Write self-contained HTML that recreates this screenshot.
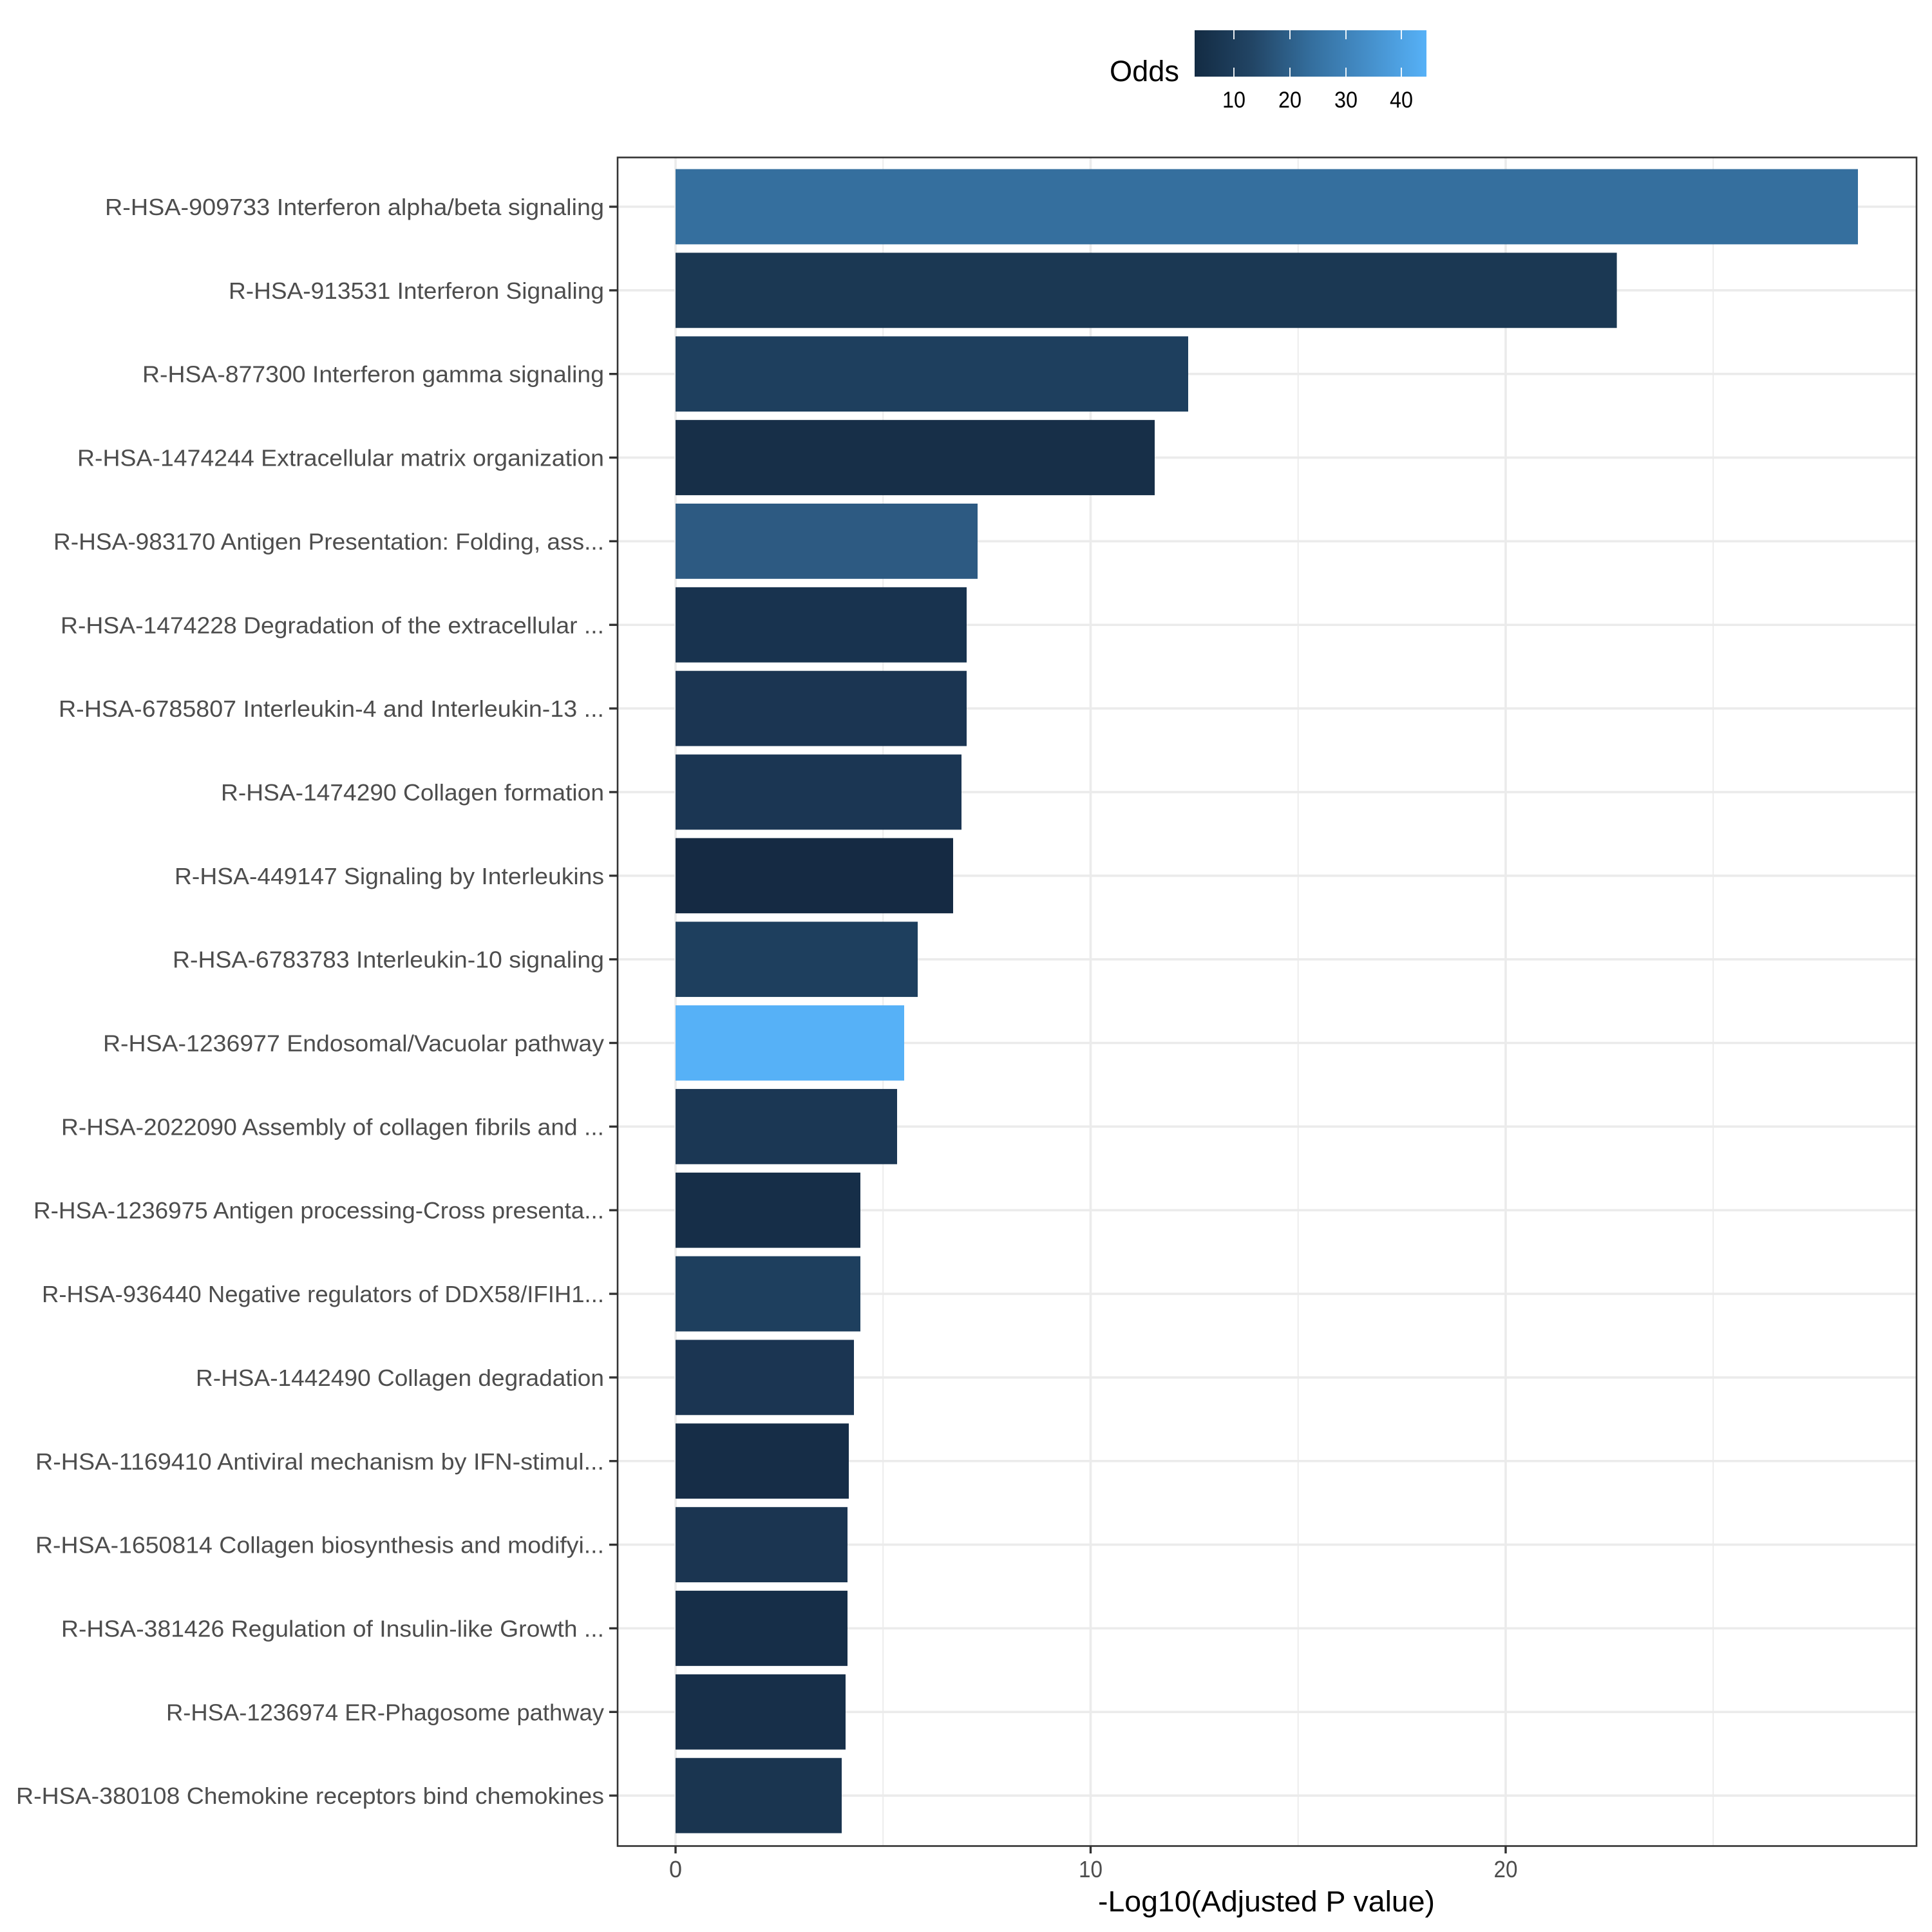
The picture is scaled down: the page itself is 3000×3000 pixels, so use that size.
<!DOCTYPE html>
<html>
<head>
<meta charset="utf-8">
<style>
html,body{margin:0;padding:0;background:#fff;}
svg{display:block;}
text{font-family:"Liberation Sans", sans-serif;}
</style>
</head>
<body>
<svg width="3000" height="3000" viewBox="0 0 3000 3000" xmlns="http://www.w3.org/2000/svg">
<defs>
<linearGradient id="odds" x1="0" y1="0" x2="1" y2="0">
<stop offset="0" stop-color="#132b43"/>
<stop offset="0.25" stop-color="#224565"/>
<stop offset="0.5" stop-color="#346e9d"/>
<stop offset="0.75" stop-color="#458fca"/>
<stop offset="1" stop-color="#56b1f7"/>
</linearGradient>
</defs>
<rect x="0" y="0" width="3000" height="3000" fill="#fff"/>

<!-- minor vertical gridlines -->
<g stroke="#ebebeb" stroke-width="1.8">
<line x1="1371.2" y1="245" x2="1371.2" y2="2866"/>
<line x1="2015.7" y1="245" x2="2015.7" y2="2866"/>
<line x1="2660.2" y1="245" x2="2660.2" y2="2866"/>
</g>
<!-- major vertical gridlines -->
<g stroke="#ebebeb" stroke-width="3.6">
<line x1="1049" y1="245" x2="1049" y2="2866"/>
<line x1="1693.5" y1="245" x2="1693.5" y2="2866"/>
<line x1="2338" y1="245" x2="2338" y2="2866"/>
</g>
<!-- major horizontal gridlines -->
<g stroke="#ebebeb" stroke-width="3.6">
<line x1="960" y1="321" x2="2975" y2="321"/>
<line x1="960" y1="450.85" x2="2975" y2="450.85"/>
<line x1="960" y1="580.7" x2="2975" y2="580.7"/>
<line x1="960" y1="710.55" x2="2975" y2="710.55"/>
<line x1="960" y1="840.4" x2="2975" y2="840.4"/>
<line x1="960" y1="970.25" x2="2975" y2="970.25"/>
<line x1="960" y1="1100.1" x2="2975" y2="1100.1"/>
<line x1="960" y1="1229.95" x2="2975" y2="1229.95"/>
<line x1="960" y1="1359.8" x2="2975" y2="1359.8"/>
<line x1="960" y1="1489.65" x2="2975" y2="1489.65"/>
<line x1="960" y1="1619.5" x2="2975" y2="1619.5"/>
<line x1="960" y1="1749.35" x2="2975" y2="1749.35"/>
<line x1="960" y1="1879.2" x2="2975" y2="1879.2"/>
<line x1="960" y1="2009.05" x2="2975" y2="2009.05"/>
<line x1="960" y1="2138.9" x2="2975" y2="2138.9"/>
<line x1="960" y1="2268.75" x2="2975" y2="2268.75"/>
<line x1="960" y1="2398.6" x2="2975" y2="2398.6"/>
<line x1="960" y1="2528.45" x2="2975" y2="2528.45"/>
<line x1="960" y1="2658.3" x2="2975" y2="2658.3"/>
<line x1="960" y1="2788.15" x2="2975" y2="2788.15"/>
</g>

<!-- bars -->
<g>
<rect x="1049" y="262.6" width="1836" height="116.8" fill="#356f9e"/>
<rect x="1049" y="392.45" width="1461.6" height="116.8" fill="#1b3853"/>
<rect x="1049" y="522.3" width="796" height="116.8" fill="#1e3f5e"/>
<rect x="1049" y="652.15" width="744" height="116.8" fill="#172f48"/>
<rect x="1049" y="782" width="469" height="116.8" fill="#2d5a82"/>
<rect x="1049" y="911.85" width="452" height="116.8" fill="#18334f"/>
<rect x="1049" y="1041.7" width="452" height="116.8" fill="#1b3552"/>
<rect x="1049" y="1171.55" width="444" height="116.8" fill="#1b3653"/>
<rect x="1049" y="1301.4" width="431" height="116.8" fill="#152a43"/>
<rect x="1049" y="1431.25" width="376" height="116.8" fill="#1e3f5e"/>
<rect x="1049" y="1561.1" width="355" height="116.8" fill="#56b1f7"/>
<rect x="1049" y="1690.95" width="344" height="116.8" fill="#1b3754"/>
<rect x="1049" y="1820.8" width="287" height="116.8" fill="#162e48"/>
<rect x="1049" y="1950.65" width="287" height="116.8" fill="#1e3f5e"/>
<rect x="1049" y="2080.5" width="277" height="116.8" fill="#1b3552"/>
<rect x="1049" y="2210.35" width="269" height="116.8" fill="#162d47"/>
<rect x="1049" y="2340.2" width="267" height="116.8" fill="#1b3551"/>
<rect x="1049" y="2470.05" width="267" height="116.8" fill="#162e48"/>
<rect x="1049" y="2599.9" width="264" height="116.8" fill="#172f49"/>
<rect x="1049" y="2729.75" width="258" height="116.8" fill="#1a3550"/>
</g>

<!-- panel border -->
<rect x="959" y="244.5" width="2017" height="2622" fill="none" stroke="#333333" stroke-width="2.6"/>

<!-- y ticks -->
<g stroke="#333333" stroke-width="3.4">
<line x1="946" y1="321" x2="959" y2="321"/>
<line x1="946" y1="450.85" x2="959" y2="450.85"/>
<line x1="946" y1="580.7" x2="959" y2="580.7"/>
<line x1="946" y1="710.55" x2="959" y2="710.55"/>
<line x1="946" y1="840.4" x2="959" y2="840.4"/>
<line x1="946" y1="970.25" x2="959" y2="970.25"/>
<line x1="946" y1="1100.1" x2="959" y2="1100.1"/>
<line x1="946" y1="1229.95" x2="959" y2="1229.95"/>
<line x1="946" y1="1359.8" x2="959" y2="1359.8"/>
<line x1="946" y1="1489.65" x2="959" y2="1489.65"/>
<line x1="946" y1="1619.5" x2="959" y2="1619.5"/>
<line x1="946" y1="1749.35" x2="959" y2="1749.35"/>
<line x1="946" y1="1879.2" x2="959" y2="1879.2"/>
<line x1="946" y1="2009.05" x2="959" y2="2009.05"/>
<line x1="946" y1="2138.9" x2="959" y2="2138.9"/>
<line x1="946" y1="2268.75" x2="959" y2="2268.75"/>
<line x1="946" y1="2398.6" x2="959" y2="2398.6"/>
<line x1="946" y1="2528.45" x2="959" y2="2528.45"/>
<line x1="946" y1="2658.3" x2="959" y2="2658.3"/>
<line x1="946" y1="2788.15" x2="959" y2="2788.15"/>
</g>

<!-- y labels -->
<g fill="#4d4d4d" font-size="36" text-anchor="end">
<text x="938" y="334" textLength="775" lengthAdjust="spacingAndGlyphs">R-HSA-909733 Interferon alpha/beta signaling</text>
<text x="938" y="463.85" textLength="583" lengthAdjust="spacingAndGlyphs">R-HSA-913531 Interferon Signaling</text>
<text x="938" y="593.7" textLength="717" lengthAdjust="spacingAndGlyphs">R-HSA-877300 Interferon gamma signaling</text>
<text x="938" y="723.55" textLength="818" lengthAdjust="spacingAndGlyphs">R-HSA-1474244 Extracellular matrix organization</text>
<text x="938" y="853.4" textLength="855" lengthAdjust="spacingAndGlyphs">R-HSA-983170 Antigen Presentation: Folding, ass...</text>
<text x="938" y="983.25" textLength="844" lengthAdjust="spacingAndGlyphs">R-HSA-1474228 Degradation of the extracellular ...</text>
<text x="938" y="1113.1" textLength="847" lengthAdjust="spacingAndGlyphs">R-HSA-6785807 Interleukin-4 and Interleukin-13 ...</text>
<text x="938" y="1242.95" textLength="595" lengthAdjust="spacingAndGlyphs">R-HSA-1474290 Collagen formation</text>
<text x="938" y="1372.8" textLength="667" lengthAdjust="spacingAndGlyphs">R-HSA-449147 Signaling by Interleukins</text>
<text x="938" y="1502.65" textLength="670" lengthAdjust="spacingAndGlyphs">R-HSA-6783783 Interleukin-10 signaling</text>
<text x="938" y="1632.5" textLength="778" lengthAdjust="spacingAndGlyphs">R-HSA-1236977 Endosomal/Vacuolar pathway</text>
<text x="938" y="1762.35" textLength="843" lengthAdjust="spacingAndGlyphs">R-HSA-2022090 Assembly of collagen fibrils and ...</text>
<text x="938" y="1892.2" textLength="886" lengthAdjust="spacingAndGlyphs">R-HSA-1236975 Antigen processing-Cross presenta...</text>
<text x="938" y="2022.05" textLength="873" lengthAdjust="spacingAndGlyphs">R-HSA-936440 Negative regulators of DDX58/IFIH1...</text>
<text x="938" y="2151.9" textLength="634" lengthAdjust="spacingAndGlyphs">R-HSA-1442490 Collagen degradation</text>
<text x="938" y="2281.75" textLength="883" lengthAdjust="spacingAndGlyphs">R-HSA-1169410 Antiviral mechanism by IFN-stimul...</text>
<text x="938" y="2411.6" textLength="883" lengthAdjust="spacingAndGlyphs">R-HSA-1650814 Collagen biosynthesis and modifyi...</text>
<text x="938" y="2541.45" textLength="843" lengthAdjust="spacingAndGlyphs">R-HSA-381426 Regulation of Insulin-like Growth ...</text>
<text x="938" y="2671.3" textLength="680" lengthAdjust="spacingAndGlyphs">R-HSA-1236974 ER-Phagosome pathway</text>
<text x="938" y="2801.15" textLength="913" lengthAdjust="spacingAndGlyphs">R-HSA-380108 Chemokine receptors bind chemokines</text>
</g>

<!-- x ticks -->
<g stroke="#333333" stroke-width="3.4">
<line x1="1049" y1="2867" x2="1049" y2="2878"/>
<line x1="1693.5" y1="2867" x2="1693.5" y2="2878"/>
<line x1="2338" y1="2867" x2="2338" y2="2878"/>
</g>
<g fill="#4d4d4d" font-size="36" text-anchor="middle">
<text x="1049" y="2915">0</text>
<text x="1693.5" y="2915" textLength="37" lengthAdjust="spacingAndGlyphs">10</text>
<text x="2338" y="2915" textLength="37" lengthAdjust="spacingAndGlyphs">20</text>
</g>

<!-- x axis title -->
<text x="1705" y="2968" font-size="45" fill="#000" textLength="523" lengthAdjust="spacingAndGlyphs">-Log10(Adjusted P value)</text>

<!-- legend -->
<text x="1723" y="126" font-size="45" fill="#000" textLength="108" lengthAdjust="spacingAndGlyphs">Odds</text>
<rect x="1855" y="47" width="360" height="72" fill="url(#odds)"/>
<g stroke="#ffffff" stroke-width="2" stroke-opacity="0.9">
<line x1="1916" y1="47" x2="1916" y2="61"/>
<line x1="2003" y1="47" x2="2003" y2="61"/>
<line x1="2090" y1="47" x2="2090" y2="61"/>
<line x1="2176" y1="47" x2="2176" y2="61"/>
<line x1="1916" y1="105" x2="1916" y2="119"/>
<line x1="2003" y1="105" x2="2003" y2="119"/>
<line x1="2090" y1="105" x2="2090" y2="119"/>
<line x1="2176" y1="105" x2="2176" y2="119"/>
</g>
<g fill="#000" font-size="35" text-anchor="middle">
<text x="1916" y="167" textLength="36" lengthAdjust="spacingAndGlyphs">10</text>
<text x="2003" y="167" textLength="36" lengthAdjust="spacingAndGlyphs">20</text>
<text x="2090" y="167" textLength="36" lengthAdjust="spacingAndGlyphs">30</text>
<text x="2176" y="167" textLength="36" lengthAdjust="spacingAndGlyphs">40</text>
</g>
</svg>
</body>
</html>
